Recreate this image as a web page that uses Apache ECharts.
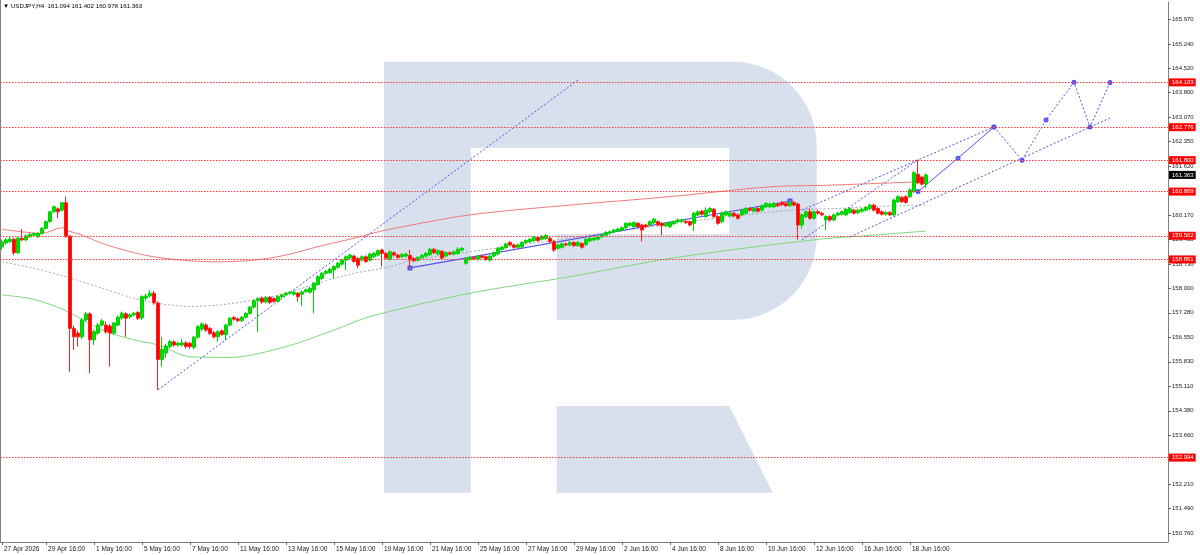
<!DOCTYPE html>
<html><head><meta charset="utf-8">
<script src="https://cdn.jsdelivr.net/npm/echarts@6/dist/echarts.min.js"></script>
<style>html,body{margin:0;padding:0;background:#fff}#c{width:1200px;height:555px}</style>
</head><body><div id="c"></div><script>
// ---------- DATA ----------
const symbolName = 'USDJPY,H4';
const xTickLabels = ['27 Apr 2026','29 Apr 16:00','1 May 16:00','5 May 16:00','7 May 16:00','11 May 16:00','13 May 16:00','15 May 16:00','19 May 16:00','21 May 16:00','25 May 16:00','27 May 16:00','29 May 16:00','2 Jun 16:00','4 Jun 16:00','8 Jun 16:00','10 Jun 16:00','12 Jun 16:00','16 Jun 16:00','18 Jun 16:00'];
const yTickValues = [165.970,165.240,164.520,163.800,163.070,162.350,161.620,160.900,160.170,159.450,158.730,158.000,157.280,156.550,155.830,155.110,154.380,153.660,152.940,152.210,151.490,150.760];
const levelValues = [164.103,162.776,161.800,160.869,159.562,158.861,152.994];

const opens = [159.23,159.35,159.39,159.46,159.06,159.49,159.44,159.53,159.58,159.53,
159.63,159.78,159.98,160.27,160.36,160.32,160.54,159.55,156.82,156.68,
156.57,157.07,157.25,156.48,156.68,156.92,156.92,156.89,156.68,156.92,
157.13,157.25,157.16,157.22,157.29,157.13,157.72,157.78,157.86,157.57,
155.90,156.09,156.28,156.42,156.33,156.33,156.39,156.38,156.26,156.56,
156.80,156.92,156.82,156.69,156.57,156.75,156.64,156.92,157.14,157.10,
157.05,157.15,157.26,157.45,157.64,157.72,157.60,157.74,157.70,157.62,
157.76,157.81,157.86,157.83,157.86,157.83,157.91,157.89,157.96,158.12,
158.30,158.45,158.47,158.55,158.63,158.72,158.84,158.90,158.96,158.89,
158.84,158.94,158.84,158.94,158.99,159.14,159.04,158.87,159.06,158.99,
158.94,158.96,158.98,158.89,158.84,158.92,158.96,159.00,159.16,159.02,
159.10,158.96,159.06,159.02,159.04,159.14,158.75,158.86,158.92,158.87,
158.96,158.94,158.84,158.96,159.02,159.16,159.21,159.36,159.29,159.22,
159.24,159.36,159.39,159.42,159.51,159.46,159.48,159.49,159.39,159.19,
159.22,159.32,159.29,159.36,159.27,159.33,159.30,159.41,159.44,159.46,
159.53,159.58,159.64,159.68,159.71,159.73,159.80,159.87,159.83,159.93,
159.88,159.88,159.88,159.95,159.98,159.93,159.86,159.83,159.92,159.98,
159.99,159.99,159.98,159.93,160.18,160.29,160.13,160.27,160.35,160.13,
159.98,160.18,160.15,160.23,160.18,160.18,160.23,160.37,160.29,160.37,
160.32,160.42,160.42,160.42,160.50,160.55,160.52,160.45,160.55,160.50,
159.88,160.13,160.27,160.08,160.28,160.23,160.03,160.13,160.03,160.18,
160.20,160.18,160.25,160.32,160.24,160.29,160.32,160.37,160.47,160.37,
160.27,160.20,160.25,160.18,160.57,160.70,160.72,160.72,160.87,161.38,
161.30,161.094];
const closes = [159.38,159.44,159.46,159.06,159.49,159.44,159.56,159.60,159.62,159.63,
159.78,159.98,160.27,160.42,160.27,160.54,159.55,156.82,156.57,156.57,
157.07,157.25,156.48,156.72,156.92,157.04,156.72,156.68,156.98,157.15,
157.27,157.12,157.22,157.27,157.12,157.76,157.78,157.86,157.58,155.90,
156.20,156.30,156.43,156.33,156.38,156.39,156.28,156.28,156.56,156.87,
156.95,156.77,156.67,156.57,156.72,156.64,156.92,157.12,157.09,157.05,
157.15,157.26,157.45,157.64,157.70,157.60,157.73,157.59,157.62,157.76,
157.81,157.86,157.88,157.89,157.76,157.90,157.96,158.01,158.16,158.35,
158.45,158.51,158.57,158.65,158.75,158.84,158.94,158.99,158.80,158.69,
158.94,158.80,159.02,159.04,159.12,159.04,158.90,159.09,158.99,158.92,
159.01,159.02,158.85,158.82,158.92,158.98,159.04,159.16,159.06,159.12,
158.90,159.06,159.02,159.09,159.16,159.19,158.89,158.92,158.88,158.96,
158.92,158.86,158.96,159.06,159.19,159.22,159.32,159.29,159.22,159.29,
159.36,159.42,159.46,159.51,159.42,159.54,159.57,159.39,159.14,159.29,
159.32,159.29,159.36,159.27,159.36,159.22,159.46,159.49,159.49,159.53,
159.58,159.66,159.68,159.73,159.76,159.80,159.93,159.93,159.95,159.83,
159.73,159.83,159.98,160.05,159.88,159.86,159.93,159.95,159.98,160.03,
160.03,159.95,159.88,160.23,160.27,160.20,160.32,160.37,160.13,159.93,
160.23,160.27,160.23,160.15,160.08,160.32,160.37,160.32,160.37,160.29,
160.45,160.52,160.50,160.52,160.45,160.48,160.45,160.55,160.47,159.88,
160.18,160.27,160.08,160.27,160.23,160.18,160.13,160.03,160.18,160.23,
160.27,160.34,160.36,160.23,160.32,160.35,160.40,160.47,160.32,160.23,
160.20,160.25,160.18,160.62,160.72,160.57,160.55,160.92,161.43,161.13,
161.09,161.363];
const lows = [159.15,159.30,159.34,158.99,159.02,159.40,159.40,159.50,159.55,159.50,
159.60,159.75,159.95,160.24,160.08,160.28,159.50,155.54,156.18,156.28,
156.50,157.02,155.49,156.33,156.62,156.88,156.66,155.69,156.62,156.88,
157.08,156.57,157.10,157.18,157.07,157.07,157.66,157.74,157.52,155.00,
155.69,155.95,156.22,156.28,156.28,156.28,156.22,156.22,156.20,156.52,
156.74,156.72,156.62,156.52,156.43,156.60,156.48,156.88,157.05,157.01,
157.01,157.11,157.22,157.41,156.72,157.55,157.56,157.54,157.58,157.58,
157.72,157.77,157.82,157.79,157.61,157.48,157.87,157.85,157.27,158.08,
158.26,158.41,158.43,158.30,158.59,158.68,158.55,158.86,158.76,158.60,
158.80,158.76,158.80,158.90,158.95,158.65,158.86,158.83,158.95,158.88,
158.90,158.92,158.60,158.78,158.80,158.88,158.92,158.96,159.02,158.98,
158.86,158.92,158.98,158.98,159.00,159.10,158.70,158.82,158.84,158.83,
158.88,158.82,158.80,158.92,158.98,159.12,159.17,159.25,159.18,159.18,
159.20,159.32,159.35,159.38,159.38,159.42,159.44,159.35,159.08,159.15,
159.18,159.25,159.25,159.23,159.23,159.18,159.26,159.37,159.40,159.42,
159.49,159.54,159.60,159.64,159.67,159.69,159.76,159.83,159.79,159.79,
159.39,159.79,159.84,159.91,159.84,159.58,159.82,159.79,159.88,159.94,
159.95,159.91,159.84,159.70,160.14,160.16,160.09,160.23,160.09,159.89,
159.94,160.14,160.11,160.11,160.04,160.14,160.19,160.28,160.25,160.25,
160.28,160.38,160.38,160.38,160.41,160.44,160.41,160.41,160.43,159.45,
159.78,160.09,160.03,160.04,160.19,160.14,159.73,159.99,159.99,160.14,
160.16,160.14,160.21,160.19,160.20,160.25,160.28,160.33,160.28,160.19,
160.16,160.16,160.14,160.14,160.53,160.53,160.51,160.68,160.83,161.09,
161.05,160.978];
const highs = [159.45,159.50,159.52,159.50,159.53,159.76,159.60,159.64,159.66,159.67,
159.82,160.02,160.30,160.46,160.40,160.57,160.72,159.58,156.90,156.75,
157.12,157.31,157.30,156.78,156.98,157.10,157.02,156.95,157.02,157.20,
157.32,157.30,157.26,157.31,157.33,157.80,157.84,157.96,157.93,157.62,
156.57,156.36,156.48,156.47,156.43,156.50,156.44,156.42,156.60,156.92,
157.00,156.98,156.86,156.74,156.76,156.79,156.96,157.16,157.18,157.14,
157.19,157.30,157.49,157.68,157.74,157.76,157.78,157.78,157.74,157.80,
157.85,157.90,157.92,157.93,157.90,157.94,158.00,158.05,158.20,158.39,
158.49,158.55,158.61,158.69,158.79,158.88,158.98,159.03,159.00,158.93,
158.98,158.98,159.06,159.08,159.16,159.18,159.08,159.13,159.10,159.03,
159.05,159.06,159.14,158.93,158.96,159.02,159.08,159.20,159.20,159.16,
159.14,159.10,159.10,159.13,159.22,159.23,158.93,158.96,158.96,159.00,
159.00,158.98,159.00,159.10,159.23,159.26,159.36,159.40,159.33,159.33,
159.40,159.46,159.50,159.55,159.55,159.58,159.61,159.53,159.43,159.33,
159.36,159.36,159.40,159.40,159.40,159.37,159.50,159.53,159.53,159.57,
159.62,159.70,159.72,159.77,159.80,159.84,159.97,159.97,159.99,159.97,
159.92,159.92,160.02,160.09,160.02,159.97,159.97,159.99,160.02,160.07,
160.07,160.03,160.02,160.27,160.31,160.33,160.40,160.41,160.39,160.17,
160.27,160.31,160.27,160.27,160.22,160.36,160.41,160.41,160.41,160.41,
160.49,160.56,160.54,160.56,160.54,160.59,160.56,160.59,160.59,160.54,
160.22,160.31,160.37,160.31,160.32,160.27,160.17,160.17,160.22,160.27,
160.31,160.38,160.40,160.36,160.36,160.39,160.44,160.51,160.51,160.41,
160.31,160.29,160.29,160.66,160.76,160.74,160.76,160.96,161.47,161.81,
161.34,161.402];

// moving averages read at sample bars (bar index, price)
const redMaIdx = [0,5,10,15,16,20,25,29,33,37,41,47,54,63,71,79,88,96,117,142,167,192,207,225,231];
const redMaVal = [159.75,159.68,159.63,159.80,159.73,159.58,159.34,159.19,159.06,158.96,158.89,158.82,158.79,158.84,158.99,159.24,159.49,159.73,160.18,160.47,160.72,161.01,161.06,161.14,161.17];
const grayMaIdx = [0,8,16,25,33,39,47,54,63,71,79,88,96,103,114,139,150,175,197,209,217,231];
const grayMaVal = [158.79,158.60,158.35,158.01,157.71,157.56,157.47,157.51,157.66,157.86,158.16,158.45,158.62,158.84,159.04,159.44,159.63,160.03,160.32,160.37,160.42,160.47];
const greenMaIdx = [0,8,16,25,33,39,47,57,71,83,92,117,142,167,192,207,213,231];
const greenMaVal = [157.81,157.68,157.34,156.77,156.48,156.33,155.98,155.96,156.28,156.77,157.17,157.86,158.35,158.89,159.29,159.49,159.54,159.70];

// drawn trend / forecast lines (bar index, price)
const diagLine = [[39,155.00],[144,164.17]];
const channelSolid = [[102,158.61],[197,160.59]];
const steepLine = [[200,159.44],[229,161.81]];
const upperChannel = [[200,160.32],[248,162.78]];
const lowerChannel = [[212,159.53],[277,163.05]];
const forecastSolid = [[229,160.87],[239,161.86],[248,162.78]];
const forecastDotted = [[248,162.78],[255,161.80],[261,162.99],[268,164.11],[272,162.78],[277,164.10]];

const totalSlots = 292;

// ---------- BUILD ----------
const MON = ['Jan','Feb','Mar','Apr','May','Jun','Jul','Aug','Sep','Oct','Nov','Dec'];
const cats = [];
let t = Date.UTC(2026,3,27,20);
while (cats.length < totalSlots) {
  const d = new Date(t);
  const wd = d.getUTCDay();
  if (wd !== 0 && wd !== 6) {
    if (cats.length === 0) cats.push(d.getUTCDate()+' '+MON[d.getUTCMonth()]+' '+d.getUTCFullYear());
    else cats.push(d.getUTCDate()+' '+MON[d.getUTCMonth()]+' '+String(d.getUTCHours()).padStart(2,'0')+':00');
  }
  t += 4*3600*1000;
}
const candles = opens.map((o,i)=>[o, closes[i], lows[i], highs[i]]);
const n = opens.length;
const last = [opens[n-1], highs[n-1], lows[n-1], closes[n-1]];
const pairs = (ix, vs) => ix.map((x,i)=>[x, vs[i]]);

// watermark logo outline (decoration)
function arcPts(cx, cy, r, a0, a1) {
  const pts = [];
  for (let k = 0; k <= 16; k++) {
    const a = a0 + (a1 - a0) * k / 16;
    pts.push([cx + r * Math.cos(a), cy + r * Math.sin(a)]);
  }
  return pts;
}
const R = 84;
const logoPts = [[384,61.7],[732.7,61.7]]
  .concat(arcPts(732.7, 145.7, R, -Math.PI/2, 0))
  .concat([[816.7,236]])
  .concat(arcPts(732.7, 236, R, 0, Math.PI/2))
  .concat([[556.7,320],[556.7,234.3],[729.3,234.3],[729.3,147.7],[470.7,147.7],[470.7,492.7],[384,492.7]]);

const FONT = "'Liberation Sans', Arial, 'DejaVu Sans', sans-serif";
const BLUE = '#5252ee';
const chart = echarts.init(document.getElementById('c'), null, {renderer:'canvas'});

const levelData = levelValues.map(v => ({yAxis: v, name: v.toFixed(3)}));
levelData.push({
  yAxis: closes[n-1], name: closes[n-1].toFixed(3),
  lineStyle: {color: 'rgba(0,0,0,0)', width: 0},
  label: {backgroundColor: '#000000', color: '#ffffff'}
});

const lineSeries = (data, opts) => Object.assign({
  type: 'line', data: data, symbol: 'none', silent: true, animation: false,
  lineStyle: {width: 1, color: BLUE}, z: 3, showAllSymbol: true
}, opts);

chart.setOption({
  animation: false,
  backgroundColor: '#ffffff',
  title: {
    text: '\u25BC ' + symbolName + '  ' + last.map(v=>v.toFixed(3)).join(' '),
    left: 3, top: 3, padding: 0,
    textStyle: {fontSize: 6.2, fontWeight: 'normal', color: '#000', fontFamily: FONT}
  },
  graphic: [
    {type:'polygon', z: 0, silent: true, shape:{points: logoPts}, style:{fill:'#d7e0ec'}},
    {type:'polygon', z: 0, silent: true,
      shape:{points:[[556.7,406],[729.3,406],[772.7,492.7],[556.7,492.7]]},
      style:{fill:'#d7e0ec'}},
    {type:'line', z: 5, silent: true, shape:{x1:0.5,y1:0,x2:0.5,y2:542}, style:{stroke:'#808080', lineWidth:1}}
  ],
  grid: {left: 0, right: 32, top: 2, bottom: 13, containLabel: false},
  xAxis: {
    type: 'category', data: cats, boundaryGap: true,
    axisLine: {show: true, lineStyle: {color: '#808080', width: 1}},
    axisTick: {show: true, alignWithLabel: true, length: 3, lineStyle:{color:'#606060'},
      interval: (i, v) => xTickLabels.indexOf(v) >= 0},
    axisLabel: {show: true, align: 'left', margin: 4, padding: [0,0,0,2],
      fontSize: 6.5, color: '#202020', fontFamily: FONT,
      interval: (i, v) => xTickLabels.indexOf(v) >= 0},
    splitLine: {show: false}
  },
  yAxis: {
    type: 'value', position: 'right', min: 150.496, max: 166.482, scale: true,
    axisLine: {show: true, lineStyle: {color: '#808080', width: 1}},
    axisTick: {show: true, length: 3, customValues: yTickValues, lineStyle:{color:'#606060'}},
    axisLabel: {show: true, customValues: yTickValues, margin: 4, fontSize: 6, color: '#202020',
      fontFamily: FONT, formatter: v => Number(v).toFixed(3)},
    splitLine: {show: false}
  },
  series: [
    lineSeries(pairs(redMaIdx, redMaVal), {smooth: 0.3, lineStyle:{width:1, color:'#f27a7a'}, z: 2}),
    lineSeries(pairs(greenMaIdx, greenMaVal), {smooth: 0.3, lineStyle:{width:1, color:'#7fd97f'}, z: 2}),
    lineSeries(pairs(grayMaIdx, grayMaVal), {smooth: 0.3, lineStyle:{width:1, color:'#a8a8a8', type:[2,2]}, z: 2}),
    {
      type: 'candlestick', data: candles, barWidth: 3, z: 4, silent: true, animation: false,
      itemStyle: {color: '#00e000', color0: '#ff0000', borderColor: '#00d000', borderColor0: '#ff2020', borderWidth: 1},
      markLine: {
        silent: true, symbol: ['none','none'], animation: false, precision: 3,
        lineStyle: {color: '#ff3a3a', width: 1, type: [1.5,1.5]},
        label: {show: true, position: 'end', distance: 1, formatter: p => p.name,
          backgroundColor: '#ff0000', color: '#ffffff', fontSize: 6, fontFamily: FONT,
          padding: [1,2,0,3], lineHeight: 7},
        data: levelData
      }
    },
    lineSeries(diagLine, {lineStyle:{width:1, color: BLUE, type:[2,2]}}),
    lineSeries(channelSolid, {symbol: 'emptyRect', symbolSize: 3, itemStyle:{color: BLUE}, lineStyle:{width:1.2, color: BLUE}}),
    lineSeries(steepLine, {lineStyle:{width:1, color: BLUE, type:[2,2]}}),
    lineSeries(upperChannel, {lineStyle:{width:1, color: BLUE, type:[2,2]}}),
    lineSeries(lowerChannel, {lineStyle:{width:1, color: BLUE, type:[2,2]}}),
    lineSeries(forecastSolid, {symbol: 'emptyCircle', symbolSize: 3, itemStyle:{color: BLUE}, lineStyle:{width:1, color: BLUE}}),
    lineSeries(forecastDotted, {symbol: 'emptyCircle', symbolSize: 3, itemStyle:{color: BLUE}, lineStyle:{width:1, color: BLUE, type:[2,2]}})
  ]
});
</script></body></html>
